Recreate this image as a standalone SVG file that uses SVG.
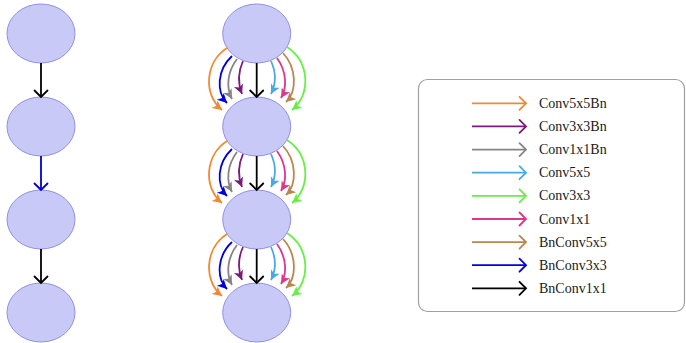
<svg xmlns="http://www.w3.org/2000/svg" xmlns:xlink="http://www.w3.org/1999/xlink" width="686" height="343" viewBox="0 0 686 343">
  <style>
    .node { fill: #c9c9f7; stroke: #8f8fe6; stroke-width: 1; }
    .edge { fill: none; stroke-width: 1.8; }
    .legend-box { fill: #ffffff; stroke: #a0a0a0; stroke-width: 1.2; }
    .label { font-family: "Liberation Serif", "Times New Roman", serif; font-size: 14px; fill: #1a1a1a; }
  </style>
  <defs>
    <!-- open chevron head (straight arrows) -->
    <marker id="chev" markerUnits="userSpaceOnUse" viewBox="-8 -8 10 16" refX="0" refY="0" markerWidth="10" markerHeight="16" orient="auto" overflow="visible">
      <path d="M-6.5,-6.5 Q-1.5,-1.5 0,0 Q-1.5,1.5 -6.5,6.5" fill="none" stroke="context-stroke" stroke-width="1.8" stroke-linecap="round"/>
    </marker>
    <!-- filled stealth heads, one per colour -->
    <marker id="h-orange" markerUnits="userSpaceOnUse" viewBox="-10 -5 11 10" refX="0" refY="0" markerWidth="11" markerHeight="10" orient="auto" overflow="visible"><path d="M-9.5,-4.8 L0,0 L-9.5,4.8 L-7,0 z" fill="#f08a30"/></marker>
    <marker id="h-blue" markerUnits="userSpaceOnUse" viewBox="-10 -5 11 10" refX="0" refY="0" markerWidth="11" markerHeight="10" orient="auto" overflow="visible"><path d="M-9.5,-4.8 L0,0 L-9.5,4.8 L-7,0 z" fill="#0000dd"/></marker>
    <marker id="h-gray" markerUnits="userSpaceOnUse" viewBox="-10 -5 11 10" refX="0" refY="0" markerWidth="11" markerHeight="10" orient="auto" overflow="visible"><path d="M-9.5,-4.8 L0,0 L-9.5,4.8 L-7,0 z" fill="#858585"/></marker>
    <marker id="h-purple" markerUnits="userSpaceOnUse" viewBox="-10 -5 11 10" refX="0" refY="0" markerWidth="11" markerHeight="10" orient="auto" overflow="visible"><path d="M-9.5,-4.8 L0,0 L-9.5,4.8 L-7,0 z" fill="#7a1a7a"/></marker>
    <marker id="h-sky" markerUnits="userSpaceOnUse" viewBox="-10 -5 11 10" refX="0" refY="0" markerWidth="11" markerHeight="10" orient="auto" overflow="visible"><path d="M-9.5,-4.8 L0,0 L-9.5,4.8 L-7,0 z" fill="#4aa8e2"/></marker>
    <marker id="h-magenta" markerUnits="userSpaceOnUse" viewBox="-10 -5 11 10" refX="0" refY="0" markerWidth="11" markerHeight="10" orient="auto" overflow="visible"><path d="M-9.5,-4.8 L0,0 L-9.5,4.8 L-7,0 z" fill="#e0358c"/></marker>
    <marker id="h-brown" markerUnits="userSpaceOnUse" viewBox="-10 -5 11 10" refX="0" refY="0" markerWidth="11" markerHeight="10" orient="auto" overflow="visible"><path d="M-9.5,-4.8 L0,0 L-9.5,4.8 L-7,0 z" fill="#b8864e"/></marker>
    <marker id="h-green" markerUnits="userSpaceOnUse" viewBox="-10 -5 11 10" refX="0" refY="0" markerWidth="11" markerHeight="10" orient="auto" overflow="visible"><path d="M-9.5,-4.8 L0,0 L-9.5,4.8 L-7,0 z" fill="#66f044"/></marker>

    <!-- bundle of edges between two stacked cells -->
    <g id="bundle">
      <path class="edge" stroke="#f08a30" marker-end="url(#h-orange)" d="M227,48 C205,62 203,95 222,110"/>
      <path class="edge" stroke="#0000dd" marker-end="url(#h-blue)" d="M232,56 C217,70 216,92 227,103"/>
      <path class="edge" stroke="#858585" marker-end="url(#h-gray)" d="M237,59 C227,72 226,88 232,99"/>
      <path class="edge" stroke="#7a1a7a" marker-end="url(#h-purple)" d="M243,61 C238,72 238,84 242,94"/>
      <path class="edge" stroke="#000000" marker-end="url(#chev)" d="M256.7,63 L256.7,97"/>
      <path class="edge" stroke="#4aa8e2" marker-end="url(#h-sky)" d="M271,61 C276,72 276,84 271,94"/>
      <path class="edge" stroke="#e0358c" marker-end="url(#h-magenta)" d="M277,58 C287,72 287,88 281,98"/>
      <path class="edge" stroke="#b8864e" marker-end="url(#h-brown)" d="M283,53 C297,68 297,92 286,102"/>
      <path class="edge" stroke="#66f044" marker-end="url(#h-green)" d="M287,47 C310,62 311,95 292,110"/>
    </g>
  </defs>

  <!-- single-path chain -->
  <g id="a1"><ellipse class="node" cx="41" cy="33.5" rx="34" ry="29.5"/></g>
  <g id="a2"><ellipse class="node" cx="41" cy="126.5" rx="34" ry="29.5"/></g>
  <g id="a3"><ellipse class="node" cx="41" cy="219.5" rx="34" ry="29.5"/></g>
  <g id="a4"><ellipse class="node" cx="41" cy="312.5" rx="34" ry="29.5"/></g>

  <!-- multi-edge chain -->
  <g id="b1"><ellipse class="node" cx="256.7" cy="33.5" rx="34" ry="29.5"/></g>
  <g id="b2"><ellipse class="node" cx="256.7" cy="126.5" rx="34" ry="29.5"/></g>
  <g id="b3"><ellipse class="node" cx="256.7" cy="219.5" rx="34" ry="29.5"/></g>
  <g id="b4"><ellipse class="node" cx="256.7" cy="312.5" rx="34" ry="29.5"/></g>

  <!-- connectors -->
  <g id="connectors">
    <path class="edge" stroke="#000000" marker-end="url(#chev)" d="M41,63 L41,97"/>
    <path class="edge" stroke="#0000cc" marker-end="url(#chev)" d="M41,156 L41,190"/>
    <path class="edge" stroke="#000000" marker-end="url(#chev)" d="M41,249 L41,283"/>
    <use xlink:href="#bundle"/>
    <use xlink:href="#bundle" transform="translate(0,93)"/>
    <use xlink:href="#bundle" transform="translate(0,186)"/>
  </g>

  <!-- legend -->
  <g id="legend">
    <rect class="legend-box" x="418.5" y="79.5" width="266" height="232" rx="9"/>
    <g class="edge" marker-end="url(#chev)">
      <path stroke="#f08a30" d="M472,103.3 L526,103.3"/>
      <path stroke="#7a1a7a" d="M472,126.4 L526,126.4"/>
      <path stroke="#858585" d="M472,149.6 L526,149.6"/>
      <path stroke="#4aa8e2" d="M472,172.7 L526,172.7"/>
      <path stroke="#66f044" d="M472,195.8 L526,195.8"/>
      <path stroke="#e0358c" d="M472,219 L526,219"/>
      <path stroke="#b8864e" d="M472,242.1 L526,242.1"/>
      <path stroke="#0000dd" d="M472,265.2 L526,265.2"/>
      <path stroke="#000000" d="M472,288.3 L526,288.3"/>
    </g>
    <text class="label" x="539" y="107.8">Conv5x5Bn</text>
    <text class="label" x="539" y="130.9">Conv3x3Bn</text>
    <text class="label" x="539" y="154.1">Conv1x1Bn</text>
    <text class="label" x="539" y="177.2">Conv5x5</text>
    <text class="label" x="539" y="200.3">Conv3x3</text>
    <text class="label" x="539" y="223.5">Conv1x1</text>
    <text class="label" x="539" y="246.6">BnConv5x5</text>
    <text class="label" x="539" y="269.7">BnConv3x3</text>
    <text class="label" x="539" y="292.8">BnConv1x1</text>
  </g>
</svg>
